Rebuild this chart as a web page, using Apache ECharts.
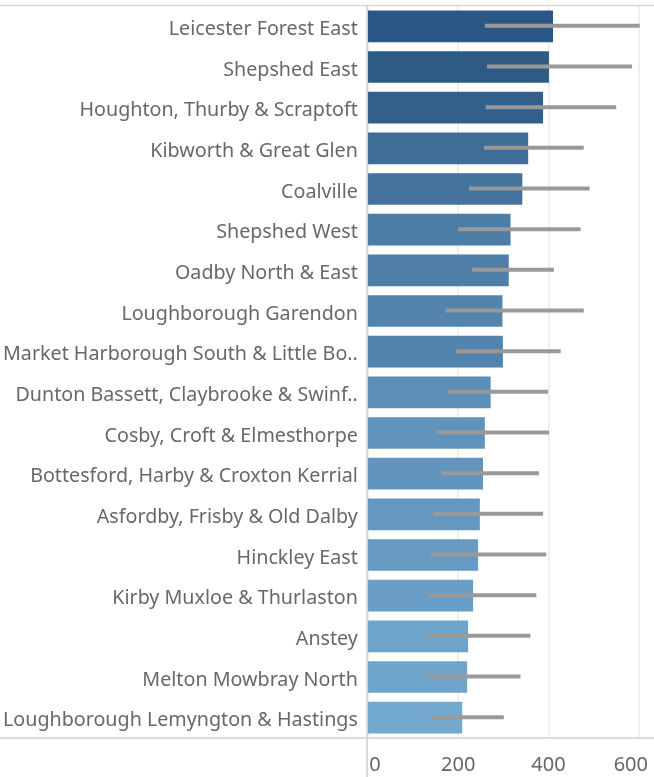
<!DOCTYPE html>
<html>
<head>
<meta charset="utf-8">
<script src="https://cdn.jsdelivr.net/npm/echarts@6/dist/echarts.min.js"></script>
<style>
html,body{margin:0;padding:0;background:#fff;}
#c{width:654px;height:777px;}
</style>
</head>
<body>
<div id="c"></div>
<script>
const categories = [
  "Leicester Forest East",
  "Shepshed East",
  "Houghton, Thurby & Scraptoft",
  "Kibworth & Great Glen",
  "Coalville",
  "Shepshed West",
  "Oadby North & East",
  "Loughborough Garendon",
  "Market Harborough South & Little Bo..",
  "Dunton Bassett, Claybrooke & Swinf..",
  "Cosby, Croft & Elmesthorpe",
  "Bottesford, Harby & Croxton Kerrial",
  "Asfordby, Frisby & Old Dalby",
  "Hinckley East",
  "Kirby Muxloe & Thurlaston",
  "Anstey",
  "Melton Mowbray North",
  "Loughborough Lemyngton & Hastings"
];
const values = [410, 401, 388, 355, 342, 316, 312, 298, 299, 272, 259, 255, 248, 244, 233, 222, 220, 209];
const lowValues = [259, 264, 261, 257, 224, 200, 231, 172, 196, 178, 152, 163, 145, 139, 134, 128, 132, 139];
const highValues = [602, 585, 550, 478, 491, 471, 412, 478, 427, 399, 401, 379, 388, 395, 373, 360, 338, 301];
const xTicks = [0, 200, 400, 600];

function hexToRgb(h){return [parseInt(h.slice(1,3),16),parseInt(h.slice(3,5),16),parseInt(h.slice(5,7),16)];}
const cLow = hexToRgb('#73a8cf'), cHigh = hexToRgb('#2a5783');
const vMin = Math.min(...values), vMax = Math.max(...values);
function colorFor(v){
  const t = (v - vMin) / (vMax - vMin);
  const c = cLow.map((a,i)=>Math.round(a + (cHigh[i]-a)*t));
  return 'rgb(' + c.join(',') + ')';
}

const errData = categories.map((c,i)=>[i, lowValues[i], highValues[i]]);

const chart = echarts.init(document.getElementById('c'), null, {renderer:'canvas'});
const FONT = '"Noto Sans", sans-serif';
chart.setOption({
  animation:false,
  grid:{left:367, right:0, top:6, bottom:39, containLabel:false},
  xAxis:{
    type:'value', min:0, max:627, interval:200,
    axisLine:{show:false}, axisTick:{show:false},
    splitLine:{show:true, showMaxLine:false, lineStyle:{color:'#efefef', width:2}},
    axisLabel:{
      color:'#666', fontSize:20, fontFamily:FONT, margin:17,
      formatter:function(v){
        if (xTicks.indexOf(v) < 0) return '';
        if (v === 0) return '{l|0}';
        if (v === 600) return '{r|600}';
        return String(v);
      },
      rich:{
        l:{color:'#666', fontSize:20, fontFamily:FONT, padding:[0,0,0,14]},
        r:{color:'#666', fontSize:20, fontFamily:FONT, padding:[0,16,0,0]}
      }
    }
  },
  yAxis:{
    type:'category', data:categories, inverse:true,
    axisLine:{show:false}, axisTick:{show:false},
    axisLabel:{color:'#686868', fontSize:19.7, fontFamily:FONT, margin:10, verticalAlign:'top', lineHeight:6}
  },
  graphic:[
    {type:'line', shape:{x1:0,y1:5.5,x2:654,y2:5.5}, style:{stroke:'#d9d9d9', lineWidth:1.5}, z:10},
    {type:'line', shape:{x1:0,y1:738,x2:654,y2:738}, style:{stroke:'#d0d0d0', lineWidth:1.5}, z:10},
    {type:'line', shape:{x1:367,y1:5,x2:367,y2:777}, style:{stroke:'#cfcfcf', lineWidth:1.5}, z:10}
  ],
  series:[
    {
      type:'bar', data:values, barCategoryGap:'22%',
      itemStyle:{color:function(p){return colorFor(p.value);}},
      z:2
    },
    {
      type:'custom', data:errData,
      encode:{y:0, x:[1,2]},
      renderItem:function(params, api){
        const s = api.coord([api.value(1), api.value(0)]);
        const e = api.coord([api.value(2), api.value(0)]);
        return {type:'rect', shape:{x:s[0], y:s[1]-2.5, width:e[0]-s[0], height:4},
                style:{fill:'#999999'}};
      },
      z:3
    }
  ]
});
</script>
</body>
</html>
